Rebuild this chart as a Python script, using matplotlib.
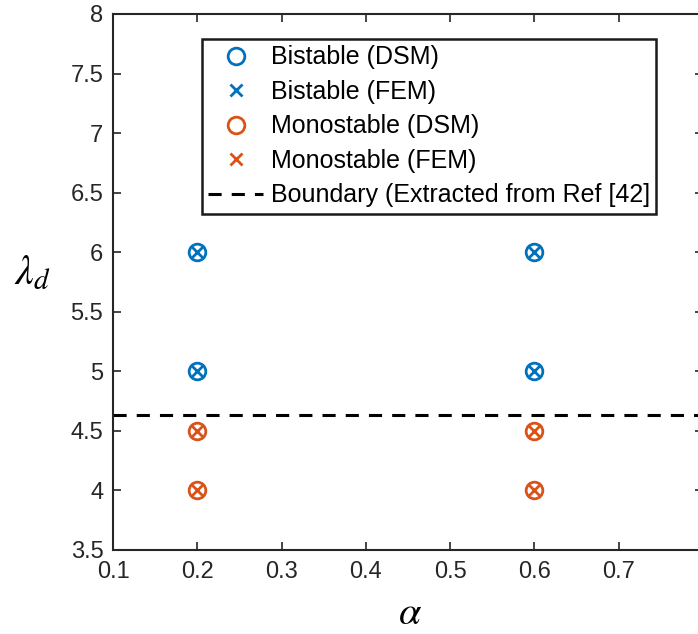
import numpy as np
import matplotlib.pyplot as plt

plt.rcParams['font.family'] = ['Liberation Sans', 'DejaVu Sans']
plt.rcParams['mathtext.fontset'] = 'stix'

# data
bi_alpha = [0.2, 0.2, 0.6, 0.6]
bi_lam = [6.0, 5.0, 6.0, 5.0]
mono_alpha = [0.2, 0.2, 0.6, 0.6]
mono_lam = [4.5, 4.0, 4.5, 4.0]
boundary = 4.63

xticks = [0.1, 0.2, 0.3, 0.4, 0.5, 0.6, 0.7, 0.8]
xticklabels = ['0.1', '0.2', '0.3', '0.4', '0.5', '0.6', '0.7', '']
yticks = [3.5, 4, 4.5, 5, 5.5, 6, 6.5, 7, 7.5, 8]
yticklabels = ['3.5', '4', '4.5', '5', '5.5', '6', '6.5', '7', '7.5', '8']

blue = '#0072BD'
orange = '#D95319'

fig = plt.figure(figsize=(6.98, 6.34), dpi=100)
ax = fig.add_axes([0.162, 0.1325, 0.845, 0.8455])

ax.plot(bi_alpha, bi_lam, 'o', ms=12, mfc='none', mec=blue, mew=2, label='Bistable (DSM)')
ax.plot(bi_alpha, bi_lam, 'x', ms=8, mec=blue, mew=2, label='Bistable (FEM)')
ax.plot(mono_alpha, mono_lam, 'o', ms=12, mfc='none', mec=orange, mew=2, label='Monostable (DSM)')
ax.plot(mono_alpha, mono_lam, 'x', ms=8, mec=orange, mew=2, label='Monostable (FEM)')
ax.axhline(boundary, color='black', ls=(0, (4.3, 3.3)), lw=2.2,
           label='Boundary (Extracted from Ref [42]')

ax.set_xlim(0.1, 0.8)
ax.set_ylim(3.5, 8)
ax.set_xticks(xticks)
ax.set_yticks(yticks)
ax.set_xticklabels(xticklabels)
ax.set_yticklabels(yticklabels)
ax.tick_params(direction='in', top=True, right=True, length=6, width=1.2,
               labelsize=17, colors='#262626')
ax.tick_params(axis='x', pad=8)
ax.tick_params(axis='y', pad=7)
for s in ax.spines.values():
    s.set_linewidth(1.5)
    s.set_color('#262626')

ax.set_xlabel(r'$\alpha$', fontsize=29, va='center')
ax.set_ylabel(r'$\lambda_d$', fontsize=30, rotation=0, va='center', ha='center')
ax.xaxis.set_label_coords(0.503, -0.118)
ax.yaxis.set_label_coords(-0.137, 0.517)

leg = ax.legend(loc='upper left', bbox_to_anchor=(0.151, 0.953), fontsize=18,
                frameon=True, fancybox=False, edgecolor='#1a1a1a', framealpha=1,
                handlelength=2.2, handletextpad=0.3, labelspacing=0.42,
                borderpad=0.25, borderaxespad=0)
leg.get_frame().set_linewidth(1.8)

fig.savefig('out.png', dpi=100)
